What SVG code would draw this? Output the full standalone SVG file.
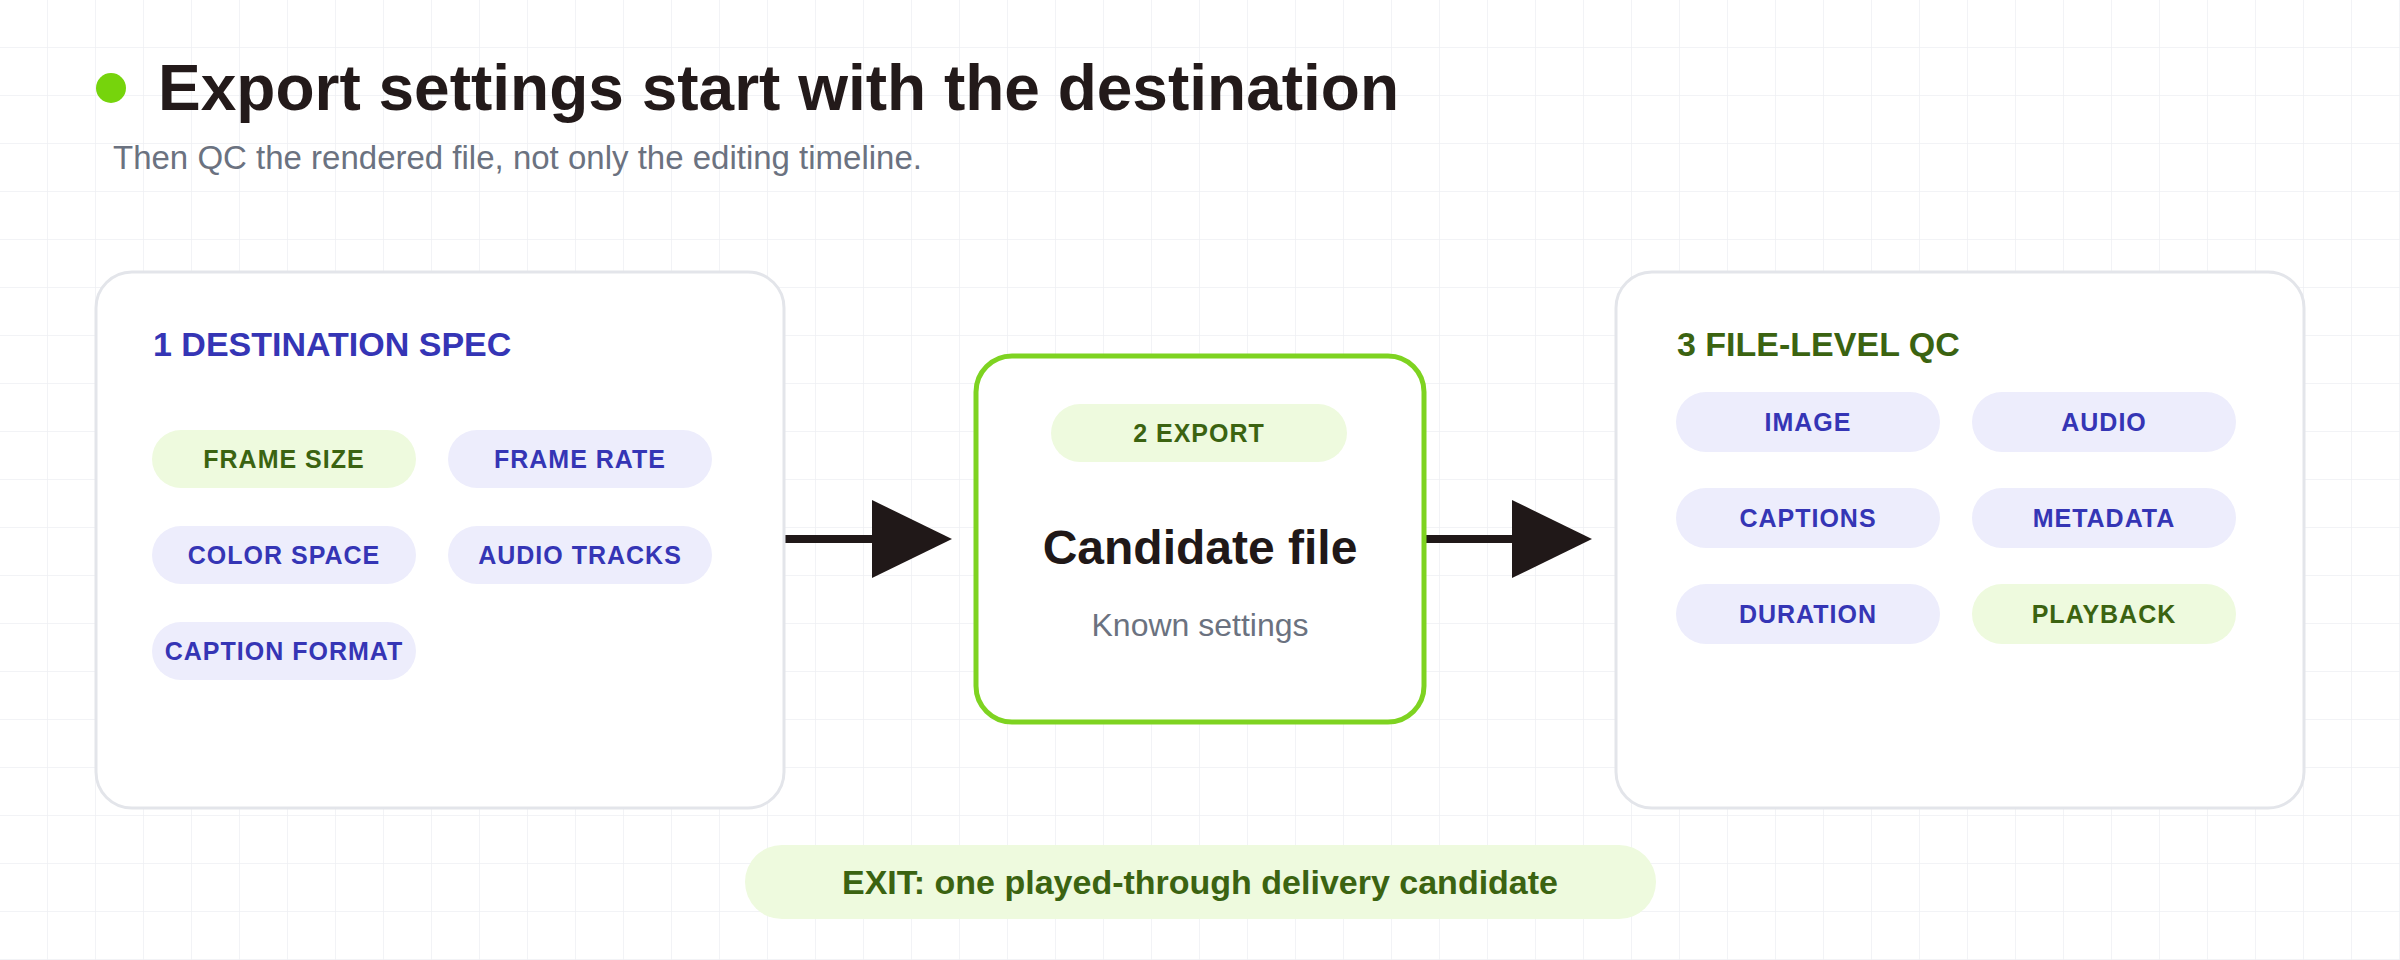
<svg xmlns="http://www.w3.org/2000/svg" width="2400" height="960" viewBox="0 0 2400 960">
<defs>
<pattern id="grid" width="48" height="48" patternUnits="userSpaceOnUse">
<path d="M48 0V48M0 48H48" fill="none" stroke="#eef0f3" stroke-width="1.5"/>
</pattern>
<style>
text{font-family:"Liberation Sans",Arial,sans-serif}
.card{fill:#fff;stroke:#e3e5ea;stroke-width:3}
.pg{fill:#eefade}.pi{fill:#ededfc}
.tg{fill:#3b6311;font-weight:bold;font-size:25px;text-anchor:middle;letter-spacing:1px}
.ti{fill:#3535b5;font-weight:bold;font-size:25px;text-anchor:middle;letter-spacing:1px}
.hd{font-weight:bold;font-size:34px}
</style>
</defs>
<rect width="2400" height="960" fill="#fff"/>
<rect width="2400" height="960" fill="url(#grid)"/>
<circle cx="111" cy="88" r="15" fill="#76d40c"/>
<text x="158" y="110" font-size="64" font-weight="bold" fill="#231a1a">Export settings start with the destination</text>
<text x="113" y="169" font-size="33" fill="#6b7280">Then QC the rendered file, not only the editing timeline.</text>
<g id="connectors">
<line x1="784" y1="539" x2="875" y2="539" stroke="#201818" stroke-width="8"/>
<polygon points="872,500 952,539 872,578" fill="#201818"/>
<line x1="1425" y1="539" x2="1515" y2="539" stroke="#201818" stroke-width="8"/>
<polygon points="1512,500 1592,539 1512,578" fill="#201818"/>
</g>
<g id="dest">
<rect class="card" x="96" y="272" width="688" height="536" rx="36"/>
<text class="hd" x="153" y="356" fill="#3535b5">1 DESTINATION SPEC</text>
<rect class="pg" x="152" y="430" width="264" height="58" rx="29"/><text class="tg" x="284" y="468">FRAME SIZE</text>
<rect class="pi" x="448" y="430" width="264" height="58" rx="29"/><text class="ti" x="580" y="468">FRAME RATE</text>
<rect class="pi" x="152" y="526" width="264" height="58" rx="29"/><text class="ti" x="284" y="564">COLOR SPACE</text>
<rect class="pi" x="448" y="526" width="264" height="58" rx="29"/><text class="ti" x="580" y="564">AUDIO TRACKS</text>
<rect class="pi" x="152" y="622" width="264" height="58" rx="29"/><text class="ti" x="284" y="660">CAPTION FORMAT</text>
</g>
<g id="export">
<rect x="976" y="356" width="448" height="366" rx="36" fill="#fff" stroke="#7ed321" stroke-width="5"/>
<rect class="pg" x="1051" y="404" width="296" height="58" rx="29"/><text class="tg" x="1199" y="442">2 EXPORT</text>
<text x="1200" y="564" font-size="48" font-weight="bold" fill="#201818" text-anchor="middle">Candidate file</text>
<text x="1200" y="636" font-size="32" fill="#6b7280" text-anchor="middle">Known settings</text>
</g>
<g id="qc">
<rect class="card" x="1616" y="272" width="688" height="536" rx="36"/>
<text class="hd" x="1677" y="356" fill="#3b6311">3 FILE-LEVEL QC</text>
<rect class="pi" x="1676" y="392" width="264" height="60" rx="30"/><text class="ti" x="1808" y="431">IMAGE</text>
<rect class="pi" x="1972" y="392" width="264" height="60" rx="30"/><text class="ti" x="2104" y="431">AUDIO</text>
<rect class="pi" x="1676" y="488" width="264" height="60" rx="30"/><text class="ti" x="1808" y="527">CAPTIONS</text>
<rect class="pi" x="1972" y="488" width="264" height="60" rx="30"/><text class="ti" x="2104" y="527">METADATA</text>
<rect class="pi" x="1676" y="584" width="264" height="60" rx="30"/><text class="ti" x="1808" y="623">DURATION</text>
<rect class="pg" x="1972" y="584" width="264" height="60" rx="30"/><text class="tg" x="2104" y="623">PLAYBACK</text>
</g>
<g id="exit">
<rect class="pg" x="745" y="845" width="911" height="74" rx="37"/>
<text x="1200" y="894" font-size="34" font-weight="bold" fill="#3b6311" text-anchor="middle">EXIT: one played-through delivery candidate</text>
</g>
</svg>
